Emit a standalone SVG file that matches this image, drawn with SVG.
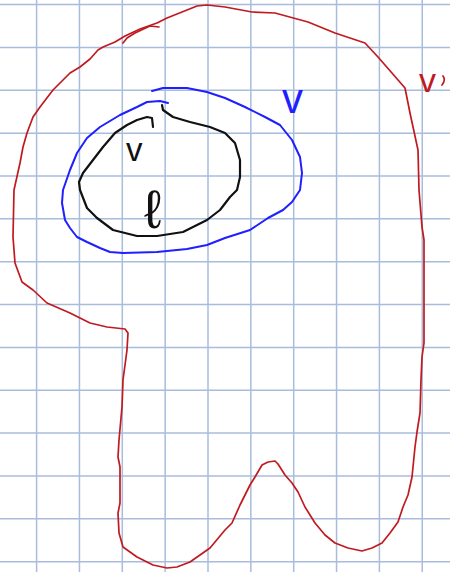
<svg xmlns="http://www.w3.org/2000/svg" width="450" height="572" viewBox="0 0 450 572">
<style>
.grid line{stroke:#a9bcdc;stroke-width:1.5}
.ink{fill:none;stroke-linecap:round;stroke-linejoin:round}
.red{stroke:#c01a1f;stroke-width:1.7}
.blue{stroke:#1f1fff;stroke-width:2}
.black{stroke:#111;stroke-width:2.2}
.lbl{font-family:"Liberation Sans",Arial,sans-serif}
</style>
<rect width="450" height="572" fill="#fff"/>
<g class="grid" id="grid">
<line x1="36.6" y1="0" x2="36.6" y2="572"/>
<line x1="79.45" y1="0" x2="79.45" y2="572"/>
<line x1="122.3" y1="0" x2="122.3" y2="572"/>
<line x1="165.15" y1="0" x2="165.15" y2="572"/>
<line x1="208" y1="0" x2="208" y2="572"/>
<line x1="250.85" y1="0" x2="250.85" y2="572"/>
<line x1="293.7" y1="0" x2="293.7" y2="572"/>
<line x1="336.55" y1="0" x2="336.55" y2="572"/>
<line x1="379.4" y1="0" x2="379.4" y2="572"/>
<line x1="422.25" y1="0" x2="422.25" y2="572"/>
<line x1="0" y1="4.6" x2="450" y2="4.6"/>
<line x1="0" y1="47.45" x2="450" y2="47.45"/>
<line x1="0" y1="90.3" x2="450" y2="90.3"/>
<line x1="0" y1="133.15" x2="450" y2="133.15"/>
<line x1="0" y1="176" x2="450" y2="176"/>
<line x1="0" y1="218.85" x2="450" y2="218.85"/>
<line x1="0" y1="261.7" x2="450" y2="261.7"/>
<line x1="0" y1="304.55" x2="450" y2="304.55"/>
<line x1="0" y1="347.4" x2="450" y2="347.4"/>
<line x1="0" y1="390.25" x2="450" y2="390.25"/>
<line x1="0" y1="433.1" x2="450" y2="433.1"/>
<line x1="0" y1="475.95" x2="450" y2="475.95"/>
<line x1="0" y1="518.8" x2="450" y2="518.8"/>
<line x1="0" y1="561.65" x2="450" y2="561.65"/>
</g>
<g id="connectors"></g>
<g id="outer-region">
<path class="ink red" d="M207,5 L225,7 L252,12 L275,13 L308,22 L335,33 L365,43 L378,57 L405,88 L410,113 L418,150 L419,190 L422,227 L424,240 L424,343 L422,357 L421,380 L420,413 L417,432 L415,447 L412,477 L408,495 L403,507 L398,522 L390,533 L382,543 L372,548 L362,551 L348,548 L335,543 L325,535 L315,523 L305,507 L298,492 L292,483 L285,475 L278,464 L275,461 L268,462 L262,465 L255,477 L250,485 L240,505 L232,523 L225,530 L210,548 L200,555 L190,562 L177,567 L167,568 L153,565 L137,557 L123,547 L119,533 L118,513 L120,503 L120,467 L118,457 L119,440 L122,407 L123,380 L127,350 L128,333 L125,329 L107,327 L90,323 L70,313 L47,303 L33,290 L22,282 L15,263 L13,237 L14,190 L20,163 L23,147 L27,133 L33,117 L40,107 L53,90 L70,73 L80,67 L90,59 L98,50 L103,47 L115,42 L125,36 L140,29 L157,23 L167,18 L182,12 L197,6 Z"/>
<path class="ink red" d="M123,43 L127,38 L135,33 L150,26 L159,27"/>
<text class="lbl" x="419" y="92" font-size="34" fill="#c01a1f">v</text>
<path class="ink red" d="M443,76 Q446,80 442,85" stroke-width="1.3"/>
</g>
<g id="middle-region">
<path class="ink blue" d="M152,91 L163,88 L187,88 L207,92 L225,98 L245,107 L265,117 L280,125 L292,140 L300,157 L302,173 L300,190 L292,202 L283,210 L268,218 L250,230 L225,238 L207,245 L187,249 L157,252 L123,253 L110,252 L100,248 L87,242 L77,237 L70,228 L65,220 L62,203 L63,190 L70,170 L77,153 L87,138 L100,127 L120,115 L137,107 L147,102 L160,101 L168,103"/>
<text class="lbl" x="282" y="113" font-size="42" fill="#1f1fff">v</text>
</g>
<g id="inner-region">
<path class="ink black" d="M162,105 L163,110 L173,117 L190,122 L210,127 L225,133 L235,143 L240,160 L240,177 L237,190 L230,197 L220,210 L207,220 L183,232 L157,236 L137,236 L113,230 L97,218 L87,208 L80,190 L79,182 L83,173 L93,160 L103,147 L115,133 L127,125 L137,120 L147,117 L152,118 L153,127"/>
<text class="lbl" x="126" y="161" font-size="33" fill="#111">v</text>
<text class="lbl" x="144" y="228" font-size="54" fill="#111" font-family="DejaVu Sans, sans-serif">ℓ</text>
</g>
</svg>
